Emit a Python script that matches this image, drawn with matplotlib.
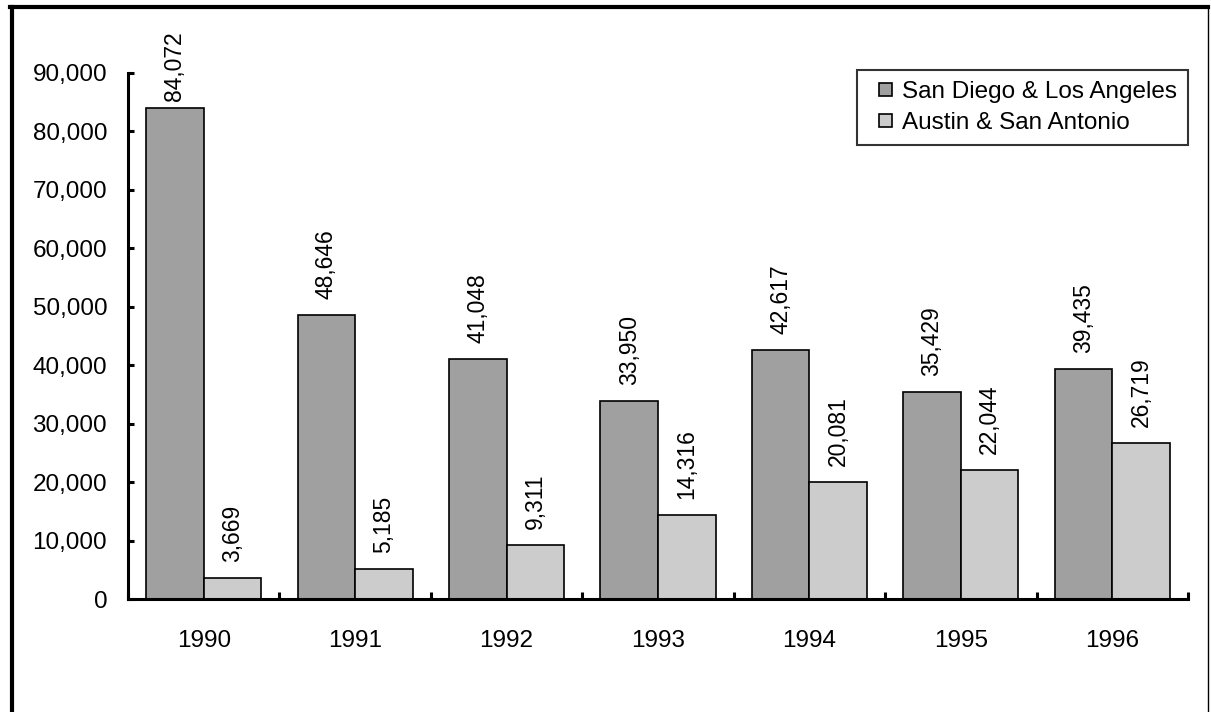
import matplotlib
matplotlib.use("Agg")
import matplotlib.pyplot as plt
from matplotlib.lines import Line2D
from matplotlib.patches import Rectangle
from matplotlib.container import BarContainer
from matplotlib.legend_handler import HandlerPatch
from matplotlib.ticker import FuncFormatter, FixedLocator
import numpy as np

years = ["1990", "1991", "1992", "1993", "1994", "1995", "1996"]
san_diego_la = [84072, 48646, 41048, 33950, 42617, 35429, 39435]
austin_sa = [3669, 5185, 9311, 14316, 20081, 22044, 26719]
series_names = ["San Diego & Los Angeles", "Austin & San Antonio"]
y_ticks = [0, 10000, 20000, 30000, 40000, 50000, 60000, 70000, 80000, 90000]

plt.rcParams["font.family"] = ["Liberation Sans", "DejaVu Sans"]

W, H = 1211, 712
fig = plt.figure(figsize=(W / 100, H / 100), dpi=100)
ax = fig.add_axes([128 / W, 1 - 599 / H, (1188 - 128) / W, (599 - 73) / H])

x = np.arange(len(years))
bw = 0.38
dark, light = "#a0a0a0", "#cccccc"
b1 = ax.bar(x - bw / 2, san_diego_la, bw, color=dark, edgecolor="black",
            linewidth=1.2, label=series_names[0])
b2 = ax.bar(x + bw / 2, austin_sa, bw, color=light, edgecolor="black",
            linewidth=1.2, label=series_names[1])

# rotated value labels above each bar
for bars, vals in ((b1, san_diego_la), (b2, austin_sa)):
    for rect, v in zip(bars, vals):
        off = 5 if v > 80000 else 11.5
        ax.annotate(f"{v:,}", (rect.get_x() + rect.get_width() / 2, v),
                    xytext=(0, off), textcoords="offset points",
                    rotation=90, ha="center", va="bottom", fontsize=16.5,
                    annotation_clip=False)

ax.set_xlim(-0.5, len(years) - 0.5)
ax.set_ylim(0, 90000)
ax.yaxis.set_major_locator(FixedLocator(y_ticks))
ax.yaxis.set_major_formatter(FuncFormatter(lambda v, p: f"{int(v):,}"))
ax.tick_params(axis="y", direction="in", length=4, width=2.2, pad=15,
               labelsize=17.5)

# category labels centred, tick marks at category boundaries
ax.set_xticks(x)
ax.set_xticklabels(years)
ax.tick_params(axis="x", which="major", length=0, pad=22, labelsize=17.5)
ax.set_xticks(np.arange(len(years) + 1) - 0.5, minor=True)
ax.tick_params(axis="x", which="minor", direction="in", length=5, width=2.2)

for s in ("top", "right"):
    ax.spines[s].set_visible(False)
for s in ("left", "bottom"):
    ax.spines[s].set_linewidth(2.2)


def small_square(legend, orig_handle, xdescent, ydescent, width, height,
                 fontsize):
    # small square swatch aligned to the right of the handle box
    side = min(9.4, width, height)
    return Rectangle((width - side - xdescent, (height - side) / 2 - ydescent),
                     side, side)


def copy_style(legend_handle, orig_handle):
    first = orig_handle.patches[0]
    legend_handle.set_facecolor(first.get_facecolor())
    legend_handle.set_edgecolor("black")
    legend_handle.set_linewidth(1.2)


square_handler = HandlerPatch(patch_func=small_square, update_func=copy_style)

leg = ax.legend(loc="upper right", bbox_to_anchor=(1188 / W, 1 - 70 / H),
                bbox_transform=fig.transFigure, borderaxespad=0,
                fontsize=17.5, frameon=True, fancybox=False,
                handlelength=1.0, handleheight=0.7, handletextpad=0.4,
                borderpad=0.45, labelspacing=0.37,
                handler_map={BarContainer: square_handler})
leg.get_frame().set_edgecolor("black")
leg.get_frame().set_linewidth(1.5)

# chart-area border: heavy left and top, thin right
fig.add_artist(Line2D([11.5 / W, 11.5 / W], [0, 1 - 6.5 / H],
                      transform=fig.transFigure, color="black", linewidth=3))
fig.add_artist(Line2D([10 / W, 1208 / W], [1 - 6.5 / H, 1 - 6.5 / H],
                      transform=fig.transFigure, color="black", linewidth=3))
fig.add_artist(Line2D([1207.5 / W, 1207.5 / W], [0, 1 - 6.5 / H],
                      transform=fig.transFigure, color="black", linewidth=1))

fig.savefig("out.png", dpi=100)
